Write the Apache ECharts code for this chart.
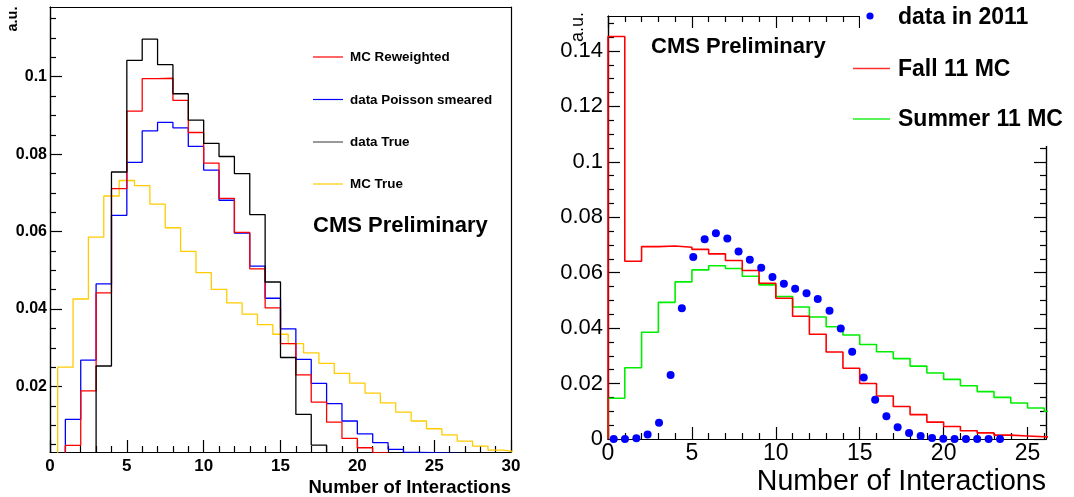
<!DOCTYPE html>
<html>
<head>
<meta charset="utf-8">
<script src="https://cdn.jsdelivr.net/npm/echarts@6/dist/echarts.min.js"></script>
<style>
  html, body { margin: 0; padding: 0; background: #fff; }
  #chart { width: 1074px; height: 497px; }
</style>
</head>
<body>
<div id="chart"></div>
<script>
// ---- left panel, bins of width 1 starting at 0 ----
var leftMcReweighted = [0, 0.0048, 0.0189, 0.0442, 0.0711, 0.0911, 0.0995, 0.0996, 0.0939, 0.0856,
  0.0777, 0.0686, 0.0598, 0.0504, 0.0403, 0.0311, 0.0230, 0.0160, 0.0108, 0.0066,
  0.0042, 0.0029, 0.0018, 0.0012, 0.0008, 0.0005, 0.0003, 0.0002, 0.0001, 0];
var leftDataPoisson = [0, 0.0115, 0.0268, 0.0465, 0.0642, 0.0779, 0.0860, 0.0882, 0.0868, 0.0820,
  0.0759, 0.0681, 0.0596, 0.0511, 0.0428, 0.0349, 0.0270, 0.0208, 0.0156, 0.0111,
  0.0078, 0.0055, 0.0038, 0.0030, 0.0029, 0.0028, 0.0027, 0.0026, 0.0025, 0.0024];
var leftDataTrue = [0, 0, 0, 0.0253, 0.0754, 0.1042, 0.1097, 0.1031, 0.0956, 0.0888,
  0.0828, 0.0794, 0.0750, 0.0644, 0.0470, 0.0275, 0.0128, 0.0049, 0, 0];
// MC True bins start at 0.5
var leftMcTrue = [0.0250, 0.0426, 0.0586, 0.0692, 0.0732, 0.0719, 0.0671, 0.0610, 0.0549, 0.0494,
  0.0451, 0.0416, 0.0387, 0.0360, 0.0335, 0.0311, 0.0287, 0.0260, 0.0234, 0.0209,
  0.0183, 0.0158, 0.0134, 0.0111, 0.0091, 0.0075, 0.0059, 0.0046, 0.0036, 0.0031];

// ---- right panel, bins of width 1 starting at 0 ----
var rightFall11 = [0.1452, 0.0641, 0.0694, 0.0696, 0.0692, 0.0684, 0.0668, 0.0644, 0.0608, 0.0562,
  0.0508, 0.0443, 0.0378, 0.0314, 0.0255, 0.0200, 0.0155, 0.0117, 0.0088, 0.0061,
  0.0045, 0.0030, 0.0022, 0.0014, 0.0011, 0.0008, 0.0006];
var rightSummer11 = [0.0147, 0.0257, 0.0385, 0.0493, 0.0567, 0.0610, 0.0625, 0.0615, 0.0587, 0.0556,
  0.0514, 0.0476, 0.0440, 0.0405, 0.0375, 0.0341, 0.0315, 0.0290, 0.0263, 0.0238,
  0.0215, 0.0192, 0.0171, 0.0150, 0.0130, 0.0112, 0.0100];
var rightDataX = [0.34, 1.01, 1.69, 2.36, 3.04, 3.73, 4.40, 5.08, 5.76, 6.43,
  7.11, 7.78, 8.45, 9.13, 9.80, 10.48, 11.15, 11.83, 12.50, 13.20,
  13.87, 14.55, 15.24, 15.92, 16.59, 17.26, 17.94, 18.63, 19.31, 19.98,
  20.65, 21.33, 22.00, 22.68, 23.36];
var rightData2011 = [0, 0, 0.0003, 0.0016, 0.0059, 0.0231, 0.0472, 0.0657, 0.0721, 0.0742,
  0.0723, 0.0676, 0.0647, 0.0618, 0.0584, 0.0560, 0.0542, 0.0526, 0.0505, 0.0463,
  0.0399, 0.0315, 0.0222, 0.0142, 0.0082, 0.0042, 0.0022, 0.0011, 0.0004, 0.0001,
  0, 0, 0, 0, 0];

// tick positions
var leftYMajor = [0.02, 0.04, 0.06, 0.08, 0.1];
var leftYMinor = [0.005, 0.01, 0.015, 0.025, 0.03, 0.035, 0.045, 0.05, 0.055, 0.065, 0.07, 0.075,
  0.085, 0.09, 0.095, 0.105, 0.11, 0.115];
var rightYMajor = [0, 0.02, 0.04, 0.06, 0.08, 0.1, 0.12, 0.14];
var rightYMinor = [0.005, 0.01, 0.015, 0.025, 0.03, 0.035, 0.045, 0.05, 0.055, 0.065, 0.07, 0.075,
  0.085, 0.09, 0.095, 0.105, 0.11, 0.115, 0.125, 0.13, 0.135, 0.145, 0.15];
var rightXMajor = [0, 5, 10, 15, 20, 25];
var rightXMinor = [1, 2, 3, 4, 6, 7, 8, 9, 11, 12, 13, 14, 16, 17, 18, 19, 21, 22, 23, 24, 26];

var FONT = '"Liberation Sans", Arial, Helvetica, sans-serif';

// histogram -> step outline points
function steps(values, start) {
  var pts = [[start, 0]];
  values.forEach(function (v, i) { pts.push([start + i, v]); });
  pts.push([start + values.length, values[values.length - 1]]);
  pts.push([start + values.length, 0]);
  return pts;
}

function hist(name, values, start, color, xi, yi, width) {
  return {
    name: name, type: 'line', step: 'end', symbol: 'none',
    xAxisIndex: xi, yAxisIndex: yi, data: steps(values, start),
    lineStyle: { color: color, width: width }, itemStyle: { color: color },
    clip: true, animation: false
  };
}

var line = { show: true, onZero: false, lineStyle: { color: '#000', width: 1.2 } };

// axis that only carries tick marks (and optionally labels) at fixed values
function ticksAxis(grid, pos, min, max, values, len, labels) {
  return {
    type: 'value', gridIndex: grid, position: pos, min: min, max: max,
    axisLine: line, splitLine: { show: false },
    axisTick: { show: true, inside: true, length: len, customValues: values,
      lineStyle: { color: '#000', width: 1.2 } },
    axisLabel: labels ? labels : { show: false }
  };
}

var chart = echarts.init(document.getElementById('chart'));

var rightBottom = ticksAxis(1, 'bottom', 0, 26.1, rightXMajor, 12, {
  customValues: rightXMajor, color: '#000', fontFamily: FONT, fontSize: 23, margin: 3 });
rightBottom.name = 'Number of Interactions';
rightBottom.nameLocation = 'end';
rightBottom.nameGap = 0;
rightBottom.nameTextStyle = { color: '#000', fontFamily: FONT, fontSize: 28.6,
  align: 'right', verticalAlign: 'top', padding: [29, 0, 0, 0] };

var option = {
  backgroundColor: '#fff',
  animation: false,
  grid: [
    { left: 50, top: 7, width: 461, height: 446 },
    { left: 608, top: 16, width: 438, height: 423 }
  ],
  xAxis: [
    {
      type: 'value', gridIndex: 0, position: 'bottom', min: 0, max: 30, interval: 5,
      axisLine: line, splitLine: { show: false },
      axisTick: { show: true, inside: true, length: 12, lineStyle: { color: '#000', width: 1.2 } },
      minorTick: { show: true, splitNumber: 5, length: 6, lineStyle: { color: '#000', width: 1.2 } },
      axisLabel: { color: '#000', fontFamily: FONT, fontWeight: 'bold', fontSize: 17, margin: 6 },
      name: 'Number of Interactions', nameLocation: 'end', nameGap: 0,
      nameTextStyle: { color: '#000', fontFamily: FONT, fontWeight: 'bold', fontSize: 18.5,
        align: 'right', verticalAlign: 'top', padding: [26, 0, 0, 0] }
    },
    { type: 'value', gridIndex: 0, position: 'top', min: 0, max: 30,
      axisLine: line, axisTick: { show: false }, axisLabel: { show: false }, splitLine: { show: false } },
    rightBottom,
    ticksAxis(1, 'bottom', 0, 26.1, rightXMinor, 6),
    ticksAxis(1, 'top', 0, 26.1, rightXMajor, 12),
    ticksAxis(1, 'top', 0, 26.1, rightXMinor, 6)
  ],
  yAxis: [
    ticksAxis(0, 'left', 0.0031, 0.118, leftYMajor, 12, {
      customValues: leftYMajor, color: '#000', fontFamily: FONT, fontWeight: 'bold', fontSize: 16, margin: 3 }),
    ticksAxis(0, 'left', 0.0031, 0.118, leftYMinor, 6),
    { type: 'value', gridIndex: 0, position: 'right', min: 0.0031, max: 0.118,
      axisLine: line, axisTick: { show: false }, axisLabel: { show: false }, splitLine: { show: false } },
    ticksAxis(1, 'left', 0, 0.1526, rightYMajor, 12, {
      customValues: rightYMajor, color: '#000', fontFamily: FONT, fontSize: 22, margin: 5 }),
    ticksAxis(1, 'left', 0, 0.1526, rightYMinor, 6),
    ticksAxis(1, 'right', 0, 0.1526, rightYMajor, 12),
    ticksAxis(1, 'right', 0, 0.1526, rightYMinor, 6)
  ],
  series: [
    hist('MC True', leftMcTrue, 0.5, '#ffcc00', 0, 0, 1.3),
    hist('data Poisson smeared', leftDataPoisson, 0, '#0000ff', 0, 0, 1.3),
    hist('MC Reweighted', leftMcReweighted, 0, '#ff0000', 0, 0, 1.3),
    hist('data True', leftDataTrue, 0, '#000000', 0, 0, 1.3),
    hist('Summer 11 MC', rightSummer11, 0, '#00ee00', 2, 3, 1.6),
    hist('Fall 11 MC', rightFall11, 0, '#ff0000', 2, 3, 1.6),
    {
      name: 'data in 2011', type: 'scatter', xAxisIndex: 2, yAxisIndex: 3,
      symbol: 'circle', symbolSize: 8, itemStyle: { color: '#0000ff', opacity: 1 },
      data: rightDataX.map(function (x, i) { return [x, rightData2011[i]]; }),
      z: 5
    }
  ],
  graphic: [
    // left legend
    { type: 'line', shape: { x1: 313, y1: 57, x2: 343, y2: 57 }, style: { stroke: '#ff0000', lineWidth: 1.2 } },
    { type: 'line', shape: { x1: 313, y1: 99.5, x2: 343, y2: 99.5 }, style: { stroke: '#0000ff', lineWidth: 1.2 } },
    { type: 'line', shape: { x1: 313, y1: 142, x2: 343, y2: 142 }, style: { stroke: '#555', lineWidth: 1.2 } },
    { type: 'line', shape: { x1: 313, y1: 184, x2: 343, y2: 184 }, style: { stroke: '#ffcc00', lineWidth: 1.2 } },
    { type: 'text', x: 350, y: 57.5, style: { text: 'MC Reweighted', fill: '#000', font: 'bold 13.4px ' + FONT, textVerticalAlign: 'middle' } },
    { type: 'text', x: 350, y: 100, style: { text: 'data Poisson smeared', fill: '#000', font: 'bold 13.4px ' + FONT, textVerticalAlign: 'middle' } },
    { type: 'text', x: 350, y: 142.5, style: { text: 'data True', fill: '#000', font: 'bold 13.4px ' + FONT, textVerticalAlign: 'middle' } },
    { type: 'text', x: 350, y: 184.5, style: { text: 'MC True', fill: '#000', font: 'bold 13.4px ' + FONT, textVerticalAlign: 'middle' } },
    { type: 'text', x: 313, y: 226, style: { text: 'CMS Preliminary', fill: '#000', font: 'bold 22px ' + FONT, textVerticalAlign: 'middle' } },
    { type: 'text', x: 13, y: 19, rotation: Math.PI / 2,
      style: { text: 'a.u.', fill: '#000', font: 'bold 14.5px ' + FONT, textAlign: 'center', textVerticalAlign: 'middle' } },

    // right panel texts + legend box
    { type: 'text', x: 578, y: 27, rotation: Math.PI / 2,
      style: { text: 'a.u.', fill: '#000', font: '18px ' + FONT, textAlign: 'center', textVerticalAlign: 'middle' } },
    { type: 'text', x: 651, y: 47, style: { text: 'CMS Preliminary', fill: '#000', font: 'bold 22px ' + FONT, textVerticalAlign: 'middle' } },
    { type: 'rect', z: 100, shape: { x: 860, y: 0, width: 214, height: 146 }, style: { fill: '#fff' } },
    { type: 'circle', z: 101, shape: { cx: 870, cy: 16, r: 3.6 }, style: { fill: '#0000ff' } },
    { type: 'line', z: 101, shape: { x1: 853, y1: 68.5, x2: 890, y2: 68.5 }, style: { stroke: '#ff3030', lineWidth: 1.4 } },
    { type: 'line', z: 101, shape: { x1: 853, y1: 119, x2: 890, y2: 119 }, style: { stroke: '#22ee22', lineWidth: 1.4 } },
    { type: 'text', z: 101, x: 898, y: 18, style: { text: 'data in 2011', fill: '#000', font: 'bold 23px ' + FONT, textVerticalAlign: 'middle' } },
    { type: 'text', z: 101, x: 898, y: 70, style: { text: 'Fall 11 MC', fill: '#000', font: 'bold 23px ' + FONT, textVerticalAlign: 'middle' } },
    { type: 'text', z: 101, x: 898, y: 120, style: { text: 'Summer 11 MC', fill: '#000', font: 'bold 23px ' + FONT, textVerticalAlign: 'middle' } }
  ]
};

chart.setOption(option);
</script>
</body>
</html>
